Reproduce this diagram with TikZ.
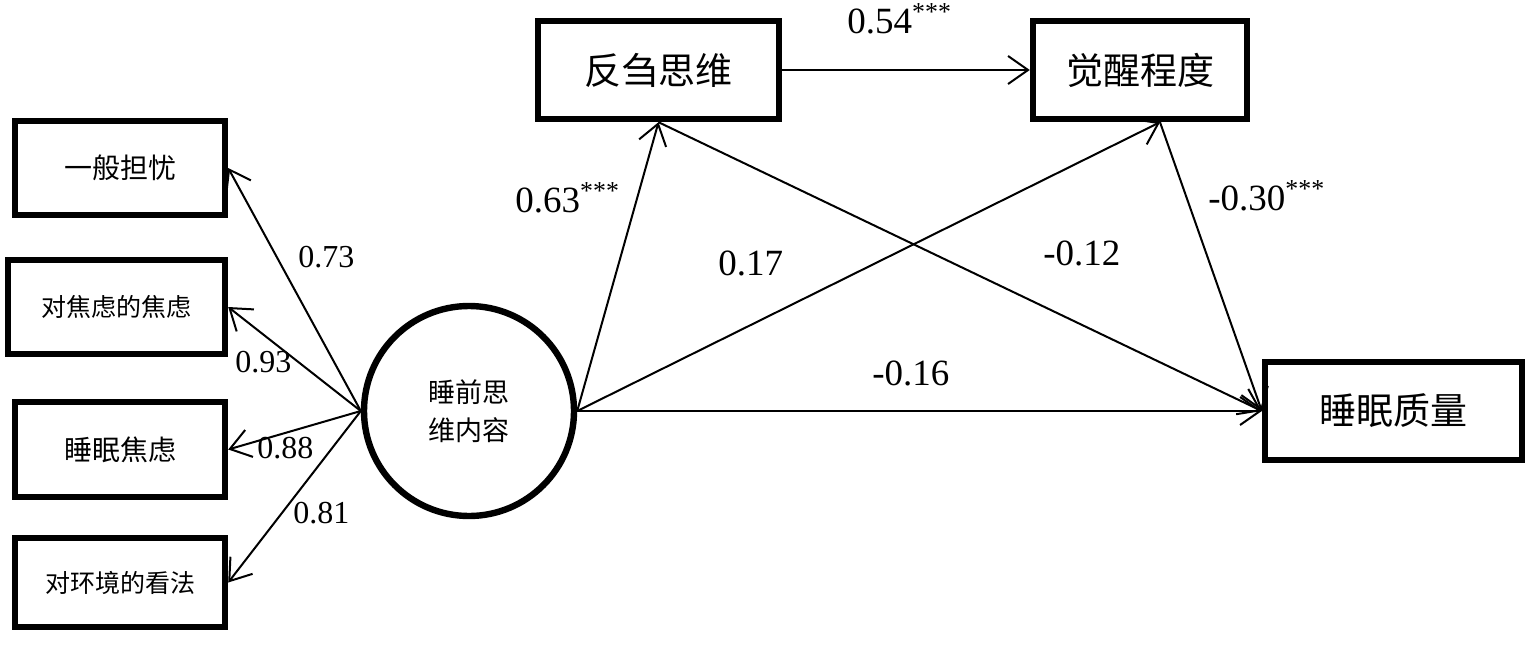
\documentclass[tikz,border=0pt]{standalone}
\usepackage{fontspec}
\setmainfont{Liberation Serif}
\newfontfamily\cjk{Noto Sans CJK SC}
\usetikzlibrary{arrows.meta,calc}
\begin{document}
\begin{tikzpicture}[x=0.5pt,y=-0.5pt,
  box/.style={draw,line width=3.2pt,rectangle,inner sep=0pt},
  bigbox/.style={box,minimum height=49pt,font=\cjk\fontsize{18.5}{20}\selectfont},
  smallbox/.style={box,font=\cjk\fontsize{14}{16}\selectfont},
  longbox/.style={box,font=\cjk\fontsize{12.5}{14}\selectfont},
  latent/.style={draw,line width=3.2pt,circle,inner sep=0pt,minimum size=105pt,align=center,font=\cjk\fontsize{13.5}{19}\selectfont},
  conn/.style={line width=1pt,-{Straight Barb[length=10pt,width=14pt,line width=1pt]}},
  coef/.style={anchor=base west,inner sep=0pt,font=\fontsize{18.5}{20}\selectfont},
  coefs/.style={anchor=base west,inner sep=0pt,font=\fontsize{16}{18}\selectfont}]
\useasboundingbox (0,0) rectangle (1530,648);
% observed indicators
\node[smallbox,minimum width=105pt,minimum height=47pt] (b1) at (120,168) {一般担忧};
\node[longbox,minimum width=108.5pt,minimum height=47pt] (b2) at (116.5,307) {对焦虑的焦虑};
\node[smallbox,minimum width=105pt,minimum height=47.5pt] (b3) at (120,449.5) {睡眠焦虑};
\node[longbox,minimum width=105pt,minimum height=44.5pt] (b4) at (120,582.5) {对环境的看法};
% latent
\node[latent] (c) at (469,411) {睡前思\\维内容};
% structural
\node[bigbox,minimum width=120.5pt] (r) at (658.5,70) {反刍思维};
\node[bigbox,minimum width=107pt] (a) at (1140,70) {觉醒程度};
\node[bigbox,minimum width=128.5pt] (q) at (1393.5,411) {睡眠质量};
\coordinate (aS) at ([xshift=10pt]a.south);
% connectors
\draw[conn] (c.west) -- (b1.east);
\draw[conn] (c.west) -- (b2.east);
\draw[conn] (c.west) -- (b3.east);
\draw[conn] (c.west) -- (b4.east);
\draw[conn] (c.east) -- (r.south);
\draw[conn] (c.east) -- (aS);
\draw[conn] (c.east) -- (q.west);
\draw[conn] (r.east) -- (a.west);
\draw[conn] (r.south) -- (q.west);
\draw[conn] (aS) -- (q.west);
% coefficients
\node[coefs] (l1) at (298,267) {0.73};
\node[coefs] (l2) at (235,372) {0.93};
\node[coefs] (l3) at (257,458) {0.88};
\node[coefs] (l4) at (293,523) {0.81};
\node[coef] (l5) at (847,33) {0.54\textsuperscript{***}};
\node[coef] (l6) at (515,212) {0.63\textsuperscript{***}};
\node[coef] (l7) at (718,275) {0.17};
\node[coef] (l8) at (872,385) {-0.16};
\node[coef] (l9) at (1043,265) {-0.12};
\node[coef] (l10) at (1208,210) {-0.30\textsuperscript{***}};
\end{tikzpicture}
\end{document}
